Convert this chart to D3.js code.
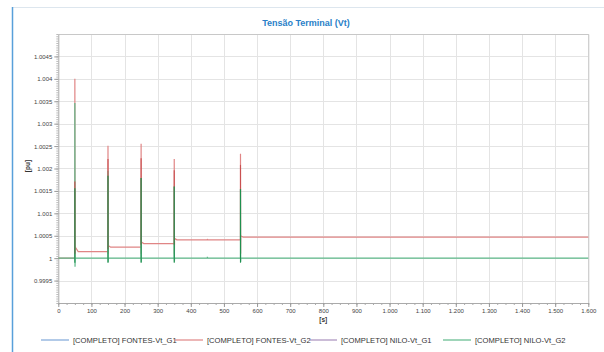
<!DOCTYPE html>
<html>
<head>
<meta charset="utf-8">
<script src="https://cdn.jsdelivr.net/npm/d3@7"></script>
<style>
  body { margin: 0; background: #fff; }
  svg { display: block; font-family: "Liberation Sans", Arial, sans-serif; }
</style>
</head>
<body>
<div id="chart"></div>
<script>
// Series names and legend colors
var seriesNames = ['[COMPLETO] FONTES-Vt_G1', '[COMPLETO] FONTES-Vt_G2',
                   '[COMPLETO] NILO-Vt_G1', '[COMPLETO] NILO-Vt_G2'],
    seriesColors = ['#7ea7d8', '#e08585', '#a88fbd', '#5fb98a'];

// Tick values
var xTickValues = [0, 100, 200, 300, 400, 500, 600, 700, 800, 900, 1000, 1100, 1200, 1300, 1400, 1500, 1600],
    yTickValues = [0.9995, 1, 1.0005, 1.001, 1.0015, 1.002, 1.0025, 1.003, 1.0035, 1.004, 1.0045];

// FONTES-Vt_G2 trace [t (s), Vt (pu)]
var fontesG2 = [
    [0, 1.0], [50, 1.0], [50, 1.004], [50.5, 1.0001], [51, 1.00025], [60, 1.000148],
    [150, 1.000148], [150, 1.00251], [150.5, 1.0001], [151, 1.00028], [158, 1.000245],
    [250, 1.000245], [250, 1.00255], [250.5, 1.0001], [251, 1.00036], [258, 1.000326],
    [350, 1.000326], [350, 1.00221], [350.5, 1.0001], [351, 1.00044], [358, 1.000408],
    [450, 1.000408], [450, 1.00043], [451, 1.000408],
    [550, 1.000408], [550, 1.00233], [550.5, 1.0001], [551, 1.0005], [558, 1.000469],
    [1600, 1.000469]
];
// NILO-Vt_G2 trace [t (s), Vt (pu)]
var niloG2 = [
    [0, 1.0], [50, 1.0], [50, 1.00346], [50.5, 0.99981], [51, 1.0],
    [150, 1.0], [150, 1.00195], [150.5, 0.99991], [151, 1.0],
    [250, 1.0], [250, 1.00179], [250.5, 0.99991], [251, 1.0],
    [350, 1.0], [350, 1.0016], [350.5, 0.99992], [351, 1.0],
    [450, 1.0], [450, 1.00003], [451, 1.0],
    [550, 1.0], [550, 1.00154], [550.5, 0.99991], [551, 1.0],
    [1600, 1.0]
];
// Dense oscillation bands at each event [t, low, high]
var fontesG2Dense = [[50, 1.0001, 1.00171], [150, 1.0002, 1.00221], [250, 1.0003, 1.00223],
                     [350, 1.0003, 1.00196], [550, 1.0004, 1.00208]];
var niloG2Dense = [[50, 0.9999, 1.00156], [150, 0.9999, 1.00184], [250, 0.9999, 1.00179],
                   [350, 0.9999, 1.0016], [550, 0.9999, 1.00154]];

var width = 604,
    height = 352,
    plotLeft = 58.3,
    plotRight = 588.3,
    plotTop = 34,
    plotBottom = 303;

var svg = d3.select('#chart').append('svg')
    .attr('width', width)
    .attr('height', height);

// Frame
svg.append('line')
    .attr('x1', 12).attr('x2', width).attr('y1', 7.5).attr('y2', 7.5)
    .attr('stroke', '#dde6ee');
svg.append('line')
    .attr('x1', 12.5).attr('x2', 12.5).attr('y1', 7).attr('y2', height)
    .attr('stroke', '#58a0da').attr('stroke-width', 1.5);

svg.append('text')
    .attr('x', 306).attr('y', 26)
    .attr('text-anchor', 'middle')
    .attr('font-size', 9).attr('font-weight', 'bold')
    .attr('fill', '#2a7fc8')
    .text('Tensão Terminal (Vt)');

var x = d3.scaleLinear().domain([0, 1600]).range([plotLeft, plotRight]),
    y = d3.scaleLinear().domain([0.999, 1.005]).range([plotBottom, plotTop]);

// Grid
var grid = svg.append('g').attr('stroke', '#e4e4e4').attr('stroke-width', 1);
grid.selectAll('.gx').data(xTickValues.slice(1)).enter().append('line')
    .attr('x1', function(d) { return Math.round(x(d)) + 0.5; })
    .attr('x2', function(d) { return Math.round(x(d)) + 0.5; })
    .attr('y1', plotTop).attr('y2', plotBottom);
grid.selectAll('.gy').data(yTickValues).enter().append('line')
    .attr('x1', plotLeft).attr('x2', plotRight)
    .attr('y1', function(d) { return Math.round(y(d)) + 0.5; })
    .attr('y2', function(d) { return Math.round(y(d)) + 0.5; });

// Plot border (top/right)
svg.append('path')
    .attr('d', 'M' + plotLeft + ',' + (plotTop + 0.5) + 'H' + (plotRight + 0.5) + 'V' + plotBottom)
    .attr('fill', 'none').attr('stroke', '#c8c8c8');

// Axes
var fmtX = d3.formatLocale({decimal: ',', thousands: '.', grouping: [3], currency: ['', '']}).format(',');
var fmtY = function(d) { return String(+d.toFixed(4)); };

var xMinor = d3.range(0, 1601, 25),
    yMinor = d3.range(0, 121).map(function(i) { return 0.999 + i * 0.00005; });

svg.append('g')
    .attr('transform', 'translate(0,' + plotBottom + ')')
    .call(d3.axisBottom(x).tickValues(xMinor).tickSize(2).tickFormat(''))
    .call(function(g) { g.select('.domain').remove(); g.selectAll('line').attr('stroke', '#aaa'); });
svg.append('g')
    .attr('transform', 'translate(0,' + plotBottom + ')')
    .call(d3.axisBottom(x).tickValues(xTickValues).tickSize(4).tickSizeOuter(0).tickPadding(2).tickFormat(fmtX))
    .call(function(g) {
        g.select('.domain').attr('stroke', '#aaa');
        g.selectAll('line').attr('stroke', '#999');
        g.selectAll('text').attr('font-size', 6).attr('fill', '#444').attr('font-family', 'Liberation Sans, Arial, sans-serif');
    });

svg.append('g')
    .attr('transform', 'translate(' + plotLeft + ',0)')
    .call(d3.axisLeft(y).tickValues(yMinor).tickSize(2).tickFormat(''))
    .call(function(g) { g.select('.domain').remove(); g.selectAll('line').attr('stroke', '#bbb'); });
svg.append('g')
    .attr('transform', 'translate(' + plotLeft + ',0)')
    .call(d3.axisLeft(y).tickValues(yTickValues).tickSize(4).tickSizeOuter(0).tickPadding(2).tickFormat(fmtY))
    .call(function(g) {
        g.select('.domain').attr('stroke', '#aaa');
        g.selectAll('line').attr('stroke', '#999');
        g.selectAll('text').attr('font-size', 6).attr('fill', '#444').attr('font-family', 'Liberation Sans, Arial, sans-serif');
    });

svg.append('text')
    .attr('transform', 'translate(30,166) rotate(-90)')
    .attr('text-anchor', 'middle')
    .attr('font-size', 6.5).attr('font-weight', 'bold').attr('fill', '#333')
    .text('[pu]');
svg.append('text')
    .attr('x', (plotLeft + plotRight) / 2).attr('y', 322)
    .attr('text-anchor', 'middle')
    .attr('font-size', 6.5).attr('font-weight', 'bold').attr('fill', '#333')
    .text('[s]');

// Traces
var line = d3.line()
    .x(function(d) { return x(d[0]); })
    .y(function(d) { return y(d[1]); });

var plot = svg.append('g');
plot.append('path').datum(fontesG2)
    .attr('d', line).attr('fill', 'none')
    .attr('stroke', seriesColors[1]).attr('stroke-width', 1.2);
plot.append('path').datum(niloG2)
    .attr('d', line).attr('fill', 'none')
    .attr('stroke', seriesColors[3]).attr('stroke-width', 1.2);

plot.selectAll('.dr').data(fontesG2Dense).enter().append('line')
    .attr('x1', function(d) { return x(d[0]); })
    .attr('x2', function(d) { return x(d[0]); })
    .attr('y1', function(d) { return y(d[1]); })
    .attr('y2', function(d) { return y(d[2]); })
    .attr('stroke', '#c95050').attr('stroke-width', 1.1);
plot.selectAll('.dg').data(niloG2Dense).enter().append('line')
    .attr('x1', function(d) { return x(d[0]); })
    .attr('x2', function(d) { return x(d[0]); })
    .attr('y1', function(d) { return y(d[1]); })
    .attr('y2', function(d) { return y(d[2]); })
    .attr('stroke', '#1f8f4f').attr('stroke-width', 1.1);

// Legend
var legend = svg.append('g').attr('transform', 'translate(41,340)');
var item = legend.selectAll('g').data(seriesNames).enter().append('g')
    .attr('transform', function(d, i) { return 'translate(' + (i * 134) + ',0)'; });
item.append('line')
    .attr('x1', 0).attr('x2', 28).attr('y1', 0).attr('y2', 0)
    .attr('stroke', function(d, i) { return seriesColors[i]; })
    .attr('stroke-width', 1.2);
item.append('text')
    .attr('x', 32).attr('y', 2.6)
    .attr('font-size', 7.6).attr('fill', '#333')
    .text(function(d) { return d; });
</script>
</body>
</html>
